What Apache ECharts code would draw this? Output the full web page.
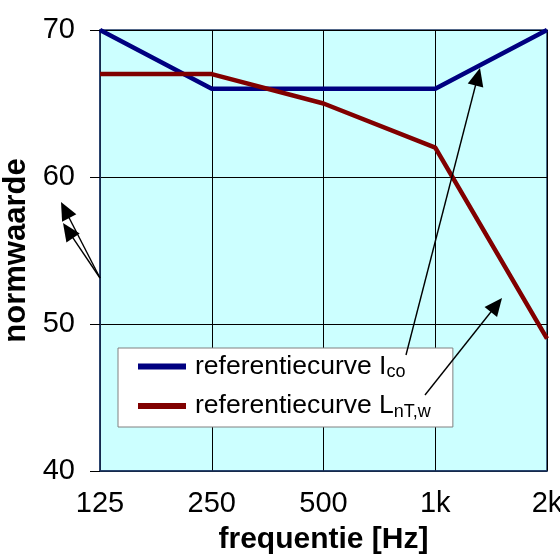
<!DOCTYPE html>
<html>
<head>
<meta charset="utf-8">
<script src="https://cdn.jsdelivr.net/npm/echarts@6/dist/echarts.min.js"></script>
<style>
html,body{margin:0;padding:0;background:#fff;}
#chart{width:560px;height:555px;}
</style>
</head>
<body>
<div id="chart"></div>
<script>
// ---- data ----
const categories = ['125', '250', '500', '1k', '2k'];
const icoValues = [70, 66, 66, 66, 70];
const lntwValues = [67, 67, 65, 62, 49];
const seriesNames = ['referentiecurve Ico', 'referentiecurve LnT,w'];
const legendMain = ['referentiecurve I', 'referentiecurve L'];
const legendSub = ['co', 'nT,w'];
const yTicks = [40, 50, 60, 70];
const xAxisTitle = 'frequentie [Hz]';
const yAxisTitle = 'normwaarde';
// annotation arrows (pixel space): [fromX, fromY, tipX, tipY]
const arrows = [
  [100, 278, 61, 202],
  [100, 278, 63, 223],
  [406, 355, 480, 68],
  [425, 395, 502, 298]
];

const FONT = "'Liberation Sans', Arial, sans-serif";

function arrowGraphics(a) {
  const [x1, y1, x2, y2] = a;
  const dx = x2 - x1, dy = y2 - y1;
  const len = Math.sqrt(dx * dx + dy * dy);
  const ux = dx / len, uy = dy / len;
  const hl = 18, hw = 8;
  const bx = x2 - ux * hl, by = y2 - uy * hl;
  const px = -uy, py = ux;
  return [
    { type: 'line', z: 100, shape: { x1: x1, y1: y1, x2: bx + ux * 2, y2: by + uy * 2 },
      style: { stroke: '#000', lineWidth: 1.4 } },
    { type: 'polygon', z: 100,
      shape: { points: [[x2, y2], [bx + px * hw, by + py * hw], [bx - px * hw, by - py * hw]] },
      style: { fill: '#000' } }
  ];
}

const chart = echarts.init(document.getElementById('chart'), null, { renderer: 'canvas' });

const option = {
  animation: false,
  backgroundColor: '#ffffff',
  textStyle: { fontFamily: FONT },
  grid: {
    left: 100, top: 30, right: 13, bottom: 84,
    containLabel: false,
    outerBoundsMode: 'none',
    show: true, backgroundColor: '#ccffff',
    borderColor: '#1c3764', borderWidth: 1.5
  },
  xAxis: {
    type: 'category',
    data: categories,
    boundaryGap: false,
    name: xAxisTitle,
    nameLocation: 'middle',
    nameGap: 54,
    nameTextStyle: { fontFamily: FONT, fontSize: 30, fontWeight: 'bold', color: '#000' },
    axisLine: { show: true, lineStyle: { color: '#1c3764', width: 1.5 } },
    axisTick: { show: false },
    axisLabel: { fontFamily: FONT, fontSize: 29, color: '#000', margin: 18 },
    splitLine: { show: true, lineStyle: { color: '#000', width: 1 } }
  },
  yAxis: {
    type: 'value',
    min: yTicks[0],
    max: yTicks[yTicks.length - 1],
    interval: 10,
    name: yAxisTitle,
    nameLocation: 'middle',
    nameGap: 60,
    nameTextStyle: { fontFamily: FONT, fontSize: 31, fontWeight: 'bold', color: '#000' },
    axisLine: { show: true, lineStyle: { color: '#1c3764', width: 1.5 } },
    axisTick: { show: true, length: 10, lineStyle: { color: '#000', width: 1 } },
    axisLabel: { fontFamily: FONT, fontSize: 29, color: '#000', margin: 25 },
    splitLine: { show: true, lineStyle: { color: '#000', width: 1 } }
  },
  legend: {
    orient: 'vertical',
    left: 118,
    top: 348,
    padding: [5, 22, 6, 20],
    itemGap: 11,
    itemWidth: 48,
    itemHeight: 6,
    icon: 'rect',
    backgroundColor: '#ffffff',
    borderColor: '#808080',
    borderWidth: 1,
    borderRadius: 0,
    itemStyle: { borderWidth: 0 },
    data: seriesNames,
    formatter: function (name) {
      const i = seriesNames.indexOf(name);
      return '{a|' + legendMain[i] + '}{s|' + legendSub[i] + '}';
    },
    textStyle: {
      fontFamily: FONT,
      color: '#000',
      rich: {
        a: { fontFamily: FONT, fontSize: 26.5, lineHeight: 30, color: '#000', padding: [0, 0, 0, 4] },
        s: { fontFamily: FONT, fontSize: 18, lineHeight: 16, color: '#000', verticalAlign: 'bottom' }
      }
    }
  },
  series: [
    {
      name: seriesNames[0],
      type: 'line',
      data: icoValues,
      showSymbol: false,
      symbol: 'none',
      lineStyle: { color: '#000080', width: 4.5 },
      itemStyle: { color: '#000080' },
      z: 3
    },
    {
      name: seriesNames[1],
      type: 'line',
      data: lntwValues,
      showSymbol: false,
      symbol: 'none',
      lineStyle: { color: '#800000', width: 4.5 },
      itemStyle: { color: '#800000' },
      z: 4
    }
  ],
  graphic: arrows.reduce((acc, a) => acc.concat(arrowGraphics(a)), [])
};

chart.setOption(option);
</script>
</body>
</html>
